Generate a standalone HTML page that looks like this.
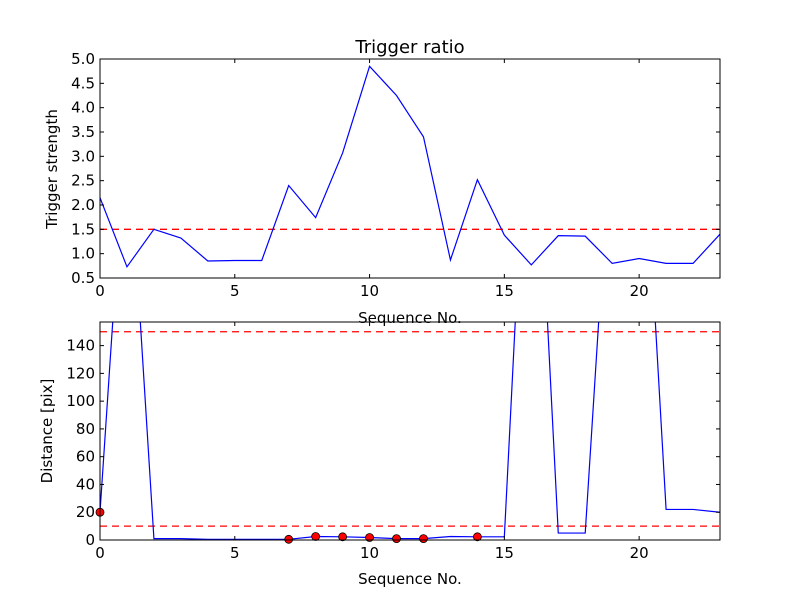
<!DOCTYPE html>
<html><head><meta charset="utf-8"><style>
body{margin:0;background:#fff;}
svg{display:block;font-family:"DejaVu Sans","Liberation Sans",sans-serif;}
</style></head><body>
<svg id="c" width="800" height="600"></svg>
<script>
const seq = [...Array(24).keys()];
const ratio = [2.15,0.73,1.5,1.32,0.85,0.86,0.86,2.4,1.74,3.07,4.85,4.25,3.4,0.87,2.52,1.38,0.77,1.37,1.36,0.8,0.9,0.8,0.8,1.4];
const ratioThreshold = 1.5;
const distance = [20,310,1,1,0.5,0.5,0.5,0.5,2.5,2.3,1.8,1,1,2.5,2.3,2.3,385,5,5,310,360,22,22,20];
const markerIdx = [0,7,8,9,10,11,12,14];
const distThresholds = [10,150];
const xTicks = [0,5,10,15,20];
const yTicksTop = [0.5,1.0,1.5,2.0,2.5,3.0,3.5,4.0,4.5,5.0];
const yTicksBot = [0,20,40,60,80,100,120,140];

const svg = document.getElementById('c');
const NS = 'http://www.w3.org/2000/svg';
function mk(tag, attrs, parent){const e=document.createElementNS(NS,tag);for(const k in attrs)e.setAttribute(k,attrs[k]);(parent||svg).appendChild(e);return e;}

function panel(name, top, bottom, ymin, ymax, yTicks, fmt){
  const L=100,R=720;
  const xs=v=>L+(v-0)/(23-0)*(R-L);
  const ys=v=>bottom-(v-ymin)/(ymax-ymin)*(bottom-top);
  const g=mk('g',{});
  
  
  const cid='clip-'+name;
  const cp=mk('clipPath',{id:cid},g);mk('rect',{x:L,y:top,width:R-L,height:bottom-top},cp);
  const plot=mk('g',{'clip-path':'url(#'+cid+')'},g);
  xTicks.forEach(t=>{
    const x=xs(t);
    mk('line',{x1:x,y1:bottom,x2:x,y2:bottom-4,stroke:'#000'},g);
    mk('line',{x1:x,y1:top,x2:x,y2:top+4,stroke:'#000'},g);
    const tx=mk('text',{x:x,y:bottom+18,'text-anchor':'middle','font-size':'15'},g);tx.textContent=t;
    
    
  });
  yTicks.forEach(t=>{
    const y=ys(t);
    mk('line',{x1:L,y1:y,x2:L+4,y2:y,stroke:'#000'},g);
    mk('line',{x1:R,y1:y,x2:R-4,y2:y,stroke:'#000'},g);
    const tx=mk('text',{x:L-5,y:y+5,'text-anchor':'end','font-size':'15'},g);tx.textContent=fmt(t);
    
    
  });
  return {g,plot,xs,ys,L,R,top,bottom};
}
function frame(p){mk('rect',{x:p.L,y:p.top,width:p.R-p.L,height:p.bottom-p.top,fill:'none',stroke:'#000','stroke-width':1},p.g);}
function hline(p,v){const l=mk('line',{x1:p.L,x2:p.R,y1:p.ys(v),y2:p.ys(v),stroke:'#f00','stroke-width':1.3,'stroke-dasharray':'7,5'},p.plot);
  
  }

// top
const p1=panel('trigger-ratio-panel',59,278,0.5,5.0,yTicksTop,t=>t.toFixed(1));
hline(p1,ratioThreshold);
const l1=mk('polyline',{points:seq.map(i=>p1.xs(i)+','+p1.ys(ratio[i])).join(' '),fill:'none',stroke:'#00f','stroke-width':1.2},p1.plot);


frame(p1);
let t=mk('text',{x:410,y:53,'text-anchor':'middle','font-size':'18'});t.textContent='Trigger ratio';


t=mk('text',{x:410,y:323,'text-anchor':'middle','font-size':'15'});t.textContent='Sequence No.';


t=mk('text',{x:57,y:169,'text-anchor':'middle','font-size':'15',transform:'rotate(-90 57 169)'});t.textContent='Trigger strength';



// bottom
const p2=panel('distance-panel',322,540,0,157,yTicksBot,t=>t);
distThresholds.forEach(v=>hline(p2,v));
const l2=mk('polyline',{points:seq.map(i=>p2.xs(i)+','+p2.ys(distance[i])).join(' '),fill:'none',stroke:'#00f','stroke-width':1.2},p2.plot);


markerIdx.forEach(i=>{
  const c=mk('circle',{cx:p2.xs(i),cy:p2.ys(distance[i]),r:4,fill:'#f00',stroke:'#000','stroke-width':0.8},p2.g);
  
  
});
frame(p2);
t=mk('text',{x:410,y:584,'text-anchor':'middle','font-size':'15'});t.textContent='Sequence No.';


t=mk('text',{x:52,y:431,'text-anchor':'middle','font-size':'15',transform:'rotate(-90 52 431)'});t.textContent='Distance [pix]';


</script>
</body></html>
